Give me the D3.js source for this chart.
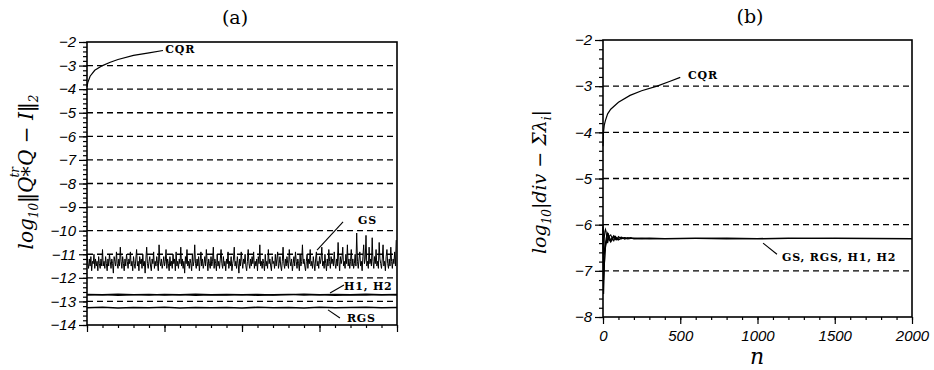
<!DOCTYPE html>
<html><head><meta charset="utf-8">
<script src="https://cdn.jsdelivr.net/npm/d3@7"></script>
<style>
html,body{margin:0;padding:0;background:#fff;}
svg{display:block;}
.tick text{font-family:"Liberation Sans",Arial,sans-serif;font-style:italic;font-size:15px;fill:#000;}
.ann{font-family:"DejaVu Serif",serif;font-weight:bold;font-size:11px;fill:#000;}
</style></head><body>
<script>
// ---------- data ----------
const nDomain = [0, 2000];
// Panel (a)
const aYTicks = [-14,-13,-12,-11,-10,-9,-8,-7,-6,-5,-4,-3,-2];
const aGrid = [-13,-12,-11,-10,-9,-8,-7,-6,-5,-4,-3];
const aCqrN = [0, 5, 20, 50, 100, 150, 200, 300, 400, 490];
const aCqrV = [-3.9, -3.72, -3.45, -3.2, -3.0, -2.86, -2.74, -2.57, -2.46, -2.36];
const aGsV = [
-11.0,-11.4,-11.6,-11.2,-11.5,-11.1,-11.7,-11.3,-11.4,-11.0,-11.6,-11.2,-11.5,-11.3,-11.7,-11.1,-11.4,-11.6,-11.2,-11.5,
-10.8,-11.5,-11.3,-11.6,-11.1,-11.4,-11.7,-11.2,-11.5,-11.0,-11.3,-11.6,-11.2,-11.4,-11.8,-11.1,-11.3,-11.5,-10.9,-11.4,
-11.6,-11.2,-11.5,-10.7,-11.3,-11.6,-11.1,-11.4,-11.7,-11.2,-11.5,-11.0,-11.3,-11.6,-11.2,-11.4,-10.9,-11.5,-11.3,-11.7,
-11.1,-11.4,-11.6,-11.2,-10.8,-11.5,-11.3,-11.7,-11.1,-11.4,-11.2,-11.6,-11.0,-11.5,-11.3,-11.8,-11.2,-10.7,-11.4,-11.6,
-11.3,-11.1,-11.5,-11.7,-11.2,-11.4,-10.9,-11.6,-11.3,-11.5,-11.1,-11.4,-11.7,-10.6,-11.3,-11.5,-11.2,-11.6,-11.4,-11.1,
-11.5,-11.3,-10.8,-11.6,-11.2,-11.4,-11.7,-11.1,-11.5,-11.3,-11.6,-11.0,-11.4,-11.2,-11.7,-10.9,-11.5,-11.3,-11.6,-11.2,
-11.4,-10.7,-11.5,-11.2,-11.6,-11.3,-11.8,-11.1,-11.4,-10.8,-11.5,-11.3,-11.6,-11.2,-11.4,-11.7,-11.0,-11.5,-11.3,-10.6,
-11.4,-11.6,-11.2,-11.5,-11.1,-11.7,-11.3,-10.9,-11.5,-11.2,-11.6,-11.4,-11.1,-11.5,-10.8,-11.3,-11.7,-11.2,-11.4,-11.6,
-11.1,-11.5,-11.3,-10.7,-11.6,-11.2,-11.4,-11.7,-11.0,-11.5,-11.3,-11.6,-11.2,-10.8,-11.4,-11.6,-11.1,-11.5,-11.3,-11.7,
-11.2,-11.4,-10.9,-11.6,-11.3,-11.5,-11.1,-11.7,-11.4,-11.2,-10.7,-11.5,-11.3,-11.6,-11.1,-11.4,-11.8,-11.2,-11.5,-10.9,
-11.3,-11.6,-11.2,-11.4,-11.0,-11.5,-11.7,-11.3,-10.8,-11.4,-11.6,-11.2,-11.5,-11.1,-11.4,-10.9,-11.6,-11.3,-11.5,-11.2,
-11.7,-11.1,-11.4,-10.6,-11.5,-11.3,-11.6,-11.2,-11.4,-11.7,-11.0,-11.5,-11.3,-11.6,-10.8,-11.4,-11.2,-11.5,-11.7,-11.1,
-11.4,-11.3,-11.6,-11.0,-11.5,-11.2,-10.9,-11.6,-11.4,-11.1,-11.5,-11.7,-11.3,-10.7,-11.4,-11.6,-11.2,-11.5,-11.1,-11.4,
-11.6,-10.8,-11.3,-11.5,-11.2,-11.7,-11.4,-11.1,-11.5,-10.9,-11.3,-11.6,-11.2,-11.4,-11.7,-11.0,-11.5,-11.3,-10.6,-11.4,
-11.2,-11.5,-11.7,-11.3,-11.0,-11.6,-11.2,-11.4,-10.8,-11.5,-11.3,-11.6,-11.1,-11.4,-11.7,-11.2,-10.9,-11.5,-11.3,-11.6,
-11.1,-11.4,-11.2,-10.7,-11.5,-11.3,-11.6,-11.0,-11.4,-11.7,-11.2,-11.5,-10.8,-11.3,-11.6,-11.1,-11.4,-11.2,-11.5,-10.9,
-11.4,-11.6,-11.2,-11.5,-10.5,-11.3,-11.7,-11.1,-11.4,-11.2,-10.7,-11.5,-11.3,-11.6,-11.0,-11.4,-10.6,-11.5,-11.2,-11.6,
-11.3,-10.8,-11.5,-11.2,-11.6,-11.4,-11.0,-11.5,-10.1,-11.3,-11.6,-11.2,-10.9,-11.5,-11.3,-11.7,-11.1,-10.6,-11.4,-11.2,
-10.2,-11.5,-11.3,-11.6,-10.7,-11.4,-11.2,-11.5,-10.3,-11.3,-11.6,-11.1,-11.4,-10.8,-11.5,-11.3,-11.6,-10.5,-11.2,-11.4,
-11.6,-11.2,-10.6,-11.5,-11.3,-11.7,-11.1,-10.8,-11.4,-11.6,-11.2,-11.5,-10.7,-11.3,-11.6,-11.2,-11.4,-10.9,-11.5,-10.4];
const aGsStep = 5;
const aFlatN = [0,100,200,300,400,500,600,700,800,900,1000,1100,1200,1300,1400,1500,1600,1700,1800,1900,2000];
const aH1V = [-12.70,-12.72,-12.69,-12.71,-12.73,-12.70,-12.72,-12.69,-12.71,-12.70,-12.72,-12.70,-12.73,-12.71,-12.69,-12.72,-12.70,-12.71,-12.69,-12.72,-12.70];
const aH2V = [-12.73,-12.71,-12.74,-12.72,-12.70,-12.73,-12.71,-12.74,-12.72,-12.73,-12.71,-12.74,-12.72,-12.70,-12.73,-12.71,-12.74,-12.72,-12.73,-12.71,-12.73];
const aRgsV = [-13.27,-13.25,-13.28,-13.26,-13.27,-13.25,-13.28,-13.26,-13.27,-13.26,-13.28,-13.25,-13.27,-13.26,-13.28,-13.25,-13.27,-13.26,-13.25,-13.27,-13.26];

// Panel (b)
const bYTicks = [-8,-7,-6,-5,-4,-3,-2];
const bGrid = [-7,-6,-5,-4,-3];
const bXTicks = [0,500,1000,1500,2000];
const bCqrN = [0, 3, 8, 15, 30, 50, 100, 175, 250, 350, 430, 500];
const bCqrV = [-4.3, -4.0, -3.85, -3.75, -3.6, -3.5, -3.35, -3.2, -3.1, -3.0, -2.9, -2.81];
const bN = [0,4,8,12,16,20,25,30,35,40,50,60,70,80,90,100,120,140,160,180,200,250,300,400,600,800,1000,1200,1500,2000];
const bGsV  = [-6.0,-6.6,-6.3,-6.15,-6.1,-6.15,-6.3,-6.4,-6.32,-6.25,-6.22,-6.3,-6.35,-6.27,-6.32,-6.26,-6.31,-6.28,-6.3,-6.29,-6.31,-6.3,-6.29,-6.3,-6.3,-6.29,-6.3,-6.3,-6.3,-6.3];
const bRgsV = [-6.2,-7.5,-7.0,-6.6,-6.4,-6.3,-6.22,-6.18,-6.25,-6.33,-6.38,-6.3,-6.25,-6.32,-6.28,-6.33,-6.29,-6.31,-6.28,-6.3,-6.3,-6.31,-6.3,-6.3,-6.29,-6.3,-6.31,-6.3,-6.3,-6.31];
const bH1V  = [-6.1,-6.3,-6.65,-6.55,-6.45,-6.38,-6.3,-6.22,-6.2,-6.27,-6.33,-6.28,-6.24,-6.3,-6.33,-6.29,-6.27,-6.31,-6.3,-6.28,-6.3,-6.29,-6.3,-6.31,-6.3,-6.3,-6.3,-6.29,-6.3,-6.3];
const bH2V  = [-6.05,-7.2,-6.9,-6.7,-6.5,-6.42,-6.35,-6.3,-6.24,-6.3,-6.36,-6.33,-6.27,-6.25,-6.3,-6.32,-6.3,-6.28,-6.31,-6.3,-6.29,-6.3,-6.31,-6.3,-6.3,-6.31,-6.3,-6.3,-6.29,-6.3];

// ---------- drawing ----------
const W = 934, H = 370;
const svg = d3.select("body").append("svg").attr("width", W).attr("height", H);

function panel(opt) {
  const x = d3.scaleLinear(nDomain, opt.xr);
  const y = d3.scaleLinear(opt.yd, opt.yr);
  const g = svg.append("g");
  g.selectAll(".grid").data(opt.grid).join("line")
    .attr("x1", x.range()[0]).attr("x2", x.range()[1])
    .attr("y1", d => y(d)).attr("y2", d => y(d))
    .attr("stroke", "#000").attr("stroke-width", 1.3).attr("stroke-dasharray", "6,4");
  const minY = d3.range(opt.yd[0], opt.yd[1] + 0.001, 0.2);
  g.append("g").attr("transform", `translate(${x.range()[0]},0)`)
    .call(d3.axisLeft(y).tickValues(minY).tickSize(4).tickFormat(""))
    .call(s => s.select(".domain").remove());
  g.append("g").attr("transform", `translate(0,${y.range()[0]})`)
    .call(d3.axisBottom(x).tickValues(d3.range(0, 2001, 100)).tickSize(3).tickFormat(""))
    .call(s => s.select(".domain").remove());
  g.append("g").attr("transform", `translate(${x.range()[0]},0)`)
    .call(d3.axisLeft(y).tickValues(opt.yTicks).tickSize(8).tickPadding(3).tickFormat(d => "\u2212" + Math.abs(d)))
    .call(s => s.select(".domain").remove());
  g.append("g").attr("transform", `translate(0,${y.range()[0]})`)
    .call(d3.axisBottom(x).tickValues(bXTicks).tickSize(7).tickPadding(6)
      .tickFormat(opt.xLabels ? d3.format("d") : ""))
    .call(s => s.select(".domain").remove());
  g.selectAll(".tick line").attr("stroke", "#000").attr("stroke-width", 1.2);
  g.append("rect").attr("x", x.range()[0]).attr("y", y.range()[1])
    .attr("width", x.range()[1] - x.range()[0]).attr("height", y.range()[0] - y.range()[1])
    .attr("fill", "none").attr("stroke", "#000").attr("stroke-width", 1.6);
  return {g, x, y};
}

const A = panel({xr: [87, 397], yd: [-14, -2], yr: [325, 42], yTicks: aYTicks, grid: aGrid, xLabels: false});
const B = panel({xr: [603, 912], yd: [-8, -2], yr: [317, 40], yTicks: bYTicks, grid: bGrid, xLabels: true});

function drawLine(P, ns, vs, w) {
  const line = d3.line().x(d => P.x(d[0])).y(d => P.y(d[1]));
  P.g.append("path").datum(ns.map((n, i) => [n, vs[i]]))
    .attr("d", line).attr("fill", "none").attr("stroke", "#000").attr("stroke-width", w);
}
drawLine(A, aCqrN, aCqrV, 1.2);
drawLine(A, aGsV.map((v, i) => i * aGsStep), aGsV, 1.0);
drawLine(A, aFlatN, aH1V, 1.4);
drawLine(A, aFlatN, aH2V, 1.4);
drawLine(A, aFlatN, aRgsV, 1.6);
drawLine(B, bCqrN, bCqrV, 1.2);
drawLine(B, bN, bGsV, 1.1);
drawLine(B, bN, bRgsV, 1.1);
drawLine(B, bN, bH1V, 1.1);
drawLine(B, bN, bH2V, 1.1);

function ann(P, text, n, v, lead) {
  P.g.append("text").attr("class", "ann").attr("x", P.x(n)).attr("y", P.y(v))
    .attr("letter-spacing", "0.8").text(text);
  if (lead) P.g.append("line").attr("x1", P.x(lead[0])).attr("y1", P.y(lead[1]))
    .attr("x2", P.x(lead[2])).attr("y2", P.y(lead[3])).attr("stroke", "#000").attr("stroke-width", 1.1);
}
ann(A, "CQR", 505, -2.45, null);
ann(A, "GS", 1748, -9.72, [1484, -10.82, 1652, -9.63]);
ann(A, "H1, H2", 1658, -12.52, [1568, -12.64, 1658, -12.3]);
ann(A, "RGS", 1677, -13.87, [1555, -13.36, 1632, -13.7]);
ann(B, "CQR", 550, -2.85, null);
ann(B, "GS, RGS, H1, H2", 1159, -6.79, [1036, -6.4, 1126, -6.64]);

svg.append("text").attr("x", 235).attr("y", 24).attr("text-anchor", "middle")
  .style("font-family", "'DejaVu Serif',serif").style("font-size", "19px").text("(a)");
svg.append("text").attr("x", 750).attr("y", 23).attr("text-anchor", "middle")
  .style("font-family", "'DejaVu Serif',serif").style("font-size", "19px").text("(b)");
svg.append("text").attr("x", 757).attr("y", 364).attr("text-anchor", "middle")
  .style("font-family", "'DejaVu Serif',serif").style("font-style", "italic").style("font-size", "22px").text("n");

function ylab(cx, cy, size, parts) {
  const t = svg.append("text").attr("transform", `translate(${cx},${cy}) rotate(-90)`)
    .attr("text-anchor", "middle")
    .style("font-family", "'DejaVu Serif',serif").style("font-style", "italic").style("font-size", size + "px");
  parts.forEach(p => {
    const s = t.append("tspan").text(p[0]);
    if (p[1]) {
      if (p[1].fs) s.attr("font-size", p[1].fs + "px");
      if (p[1].dy !== undefined) s.attr("dy", p[1].dy);
      if (p[1].dx !== undefined) s.attr("dx", p[1].dx);
    }
  });
}
ylab(33, 172, 20, [["log"], ["10", {fs: 12, dy: 5}], ["\u2016Q", {dy: -5}], ["*", {dy: 3}],
  ["tr", {fs: 12, dy: -17, dx: -11}], ["Q \u2212 I\u2016", {dy: 14, dx: 1}], ["2", {fs: 12, dy: 5}]]);
ylab(546, 182, 19, [["log"], ["10", {fs: 12, dy: 5}], ["|div \u2212 \u03A3\u03BB", {dy: -5}], ["i", {fs: 12, dy: 5}], ["|", {dy: -5}]]);
</script>
</body></html>
